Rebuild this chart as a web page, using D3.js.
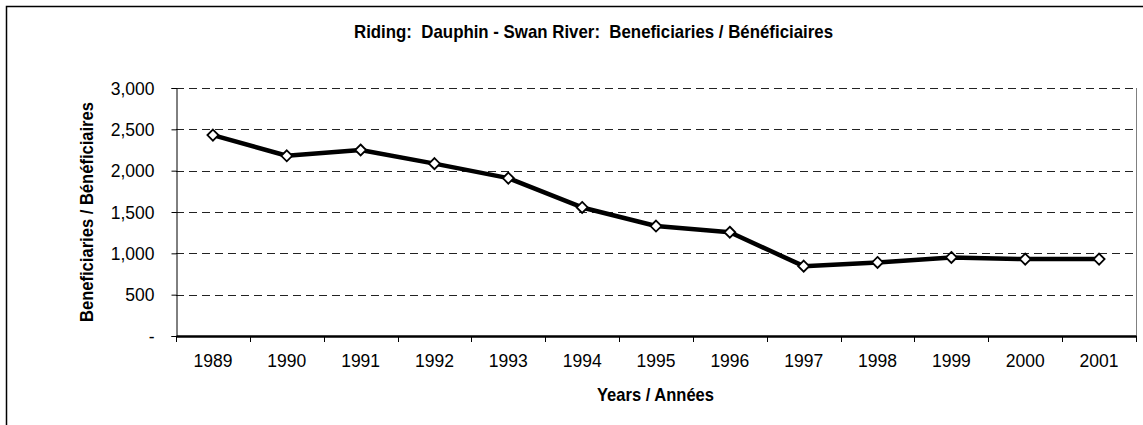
<!DOCTYPE html>
<html>
<head>
<meta charset="utf-8">
<title>Dauphin - Swan River</title>
<script src="https://d3js.org/d3.v7.min.js"></script>
<style>
body { margin: 0; background: #fff; }
</style>
</head>
<body>
<svg id="chart" width="1143" height="425"></svg>
<script>
// data
var years = ['1989','1990','1991','1992','1993','1994','1995','1996','1997','1998','1999','2000','2001'];
var beneficiaries = [2430, 2180, 2250, 2085, 1910, 1555, 1330, 1255, 845, 890, 950, 930, 930];
var yTicks = [0, 500, 1000, 1500, 2000, 2500, 3000];

var boldFont = "'Liberation Sans Narrow', 'Arial Narrow', 'Liberation Sans', Arial, sans-serif";
var tickFont = "'Liberation Sans', Arial, sans-serif";

var svg = d3.select('#chart');

// outer chart border
svg.append('rect')
    .attr('x', 6.5).attr('y', 6.5)
    .attr('width', 1160).attr('height', 440)
    .attr('fill', 'none').attr('stroke', '#000').attr('stroke-width', 1.5);

var margin = {top: 88, left: 176, right: 1136, bottom: 336};

var x = d3.scaleBand()
    .domain(years)
    .range([margin.left, margin.right]);

var y = d3.scaleLinear()
    .domain([0, 3000])
    .range([margin.bottom, margin.top]);

// gridlines
svg.append('g')
    .selectAll('line')
    .data(yTicks.filter(function(d) { return d > 0; }))
    .enter().append('line')
        .attr('x1', margin.left).attr('x2', margin.right)
        .attr('y1', function(d) { return Math.round(y(d)) + 0.5; })
        .attr('y2', function(d) { return Math.round(y(d)) + 0.5; })
        .attr('stroke', '#222')
        .attr('stroke-dasharray', '8,5');

// right border of plot
svg.append('line')
    .attr('x1', margin.right + 0.5).attr('x2', margin.right + 0.5)
    .attr('y1', margin.top).attr('y2', margin.bottom)
    .attr('stroke', '#808080');

// y axis
var yAxis = svg.append('g')
    .attr('transform', 'translate(' + (margin.left + 0.5) + ',0)')
    .call(d3.axisLeft(y)
        .tickValues(yTicks)
        .tickSize(5)
        .tickPadding(17)
        .tickFormat(function(d) { return d === 0 ? '-' : d3.format(',')(d); }));
yAxis.select('.domain').attr('stroke', '#000');
yAxis.selectAll('.tick text')
    .style('font-family', tickFont)
    .style('font-size', '17.5px')
    .attr('fill', '#000')
    .attr('dy', '0.35em');

// x axis
var xAxis = svg.append('g')
    .attr('transform', 'translate(0,' + (margin.bottom) + ')')
    .call(d3.axisBottom(x).tickSize(0).tickPadding(19));
xAxis.select('.domain').attr('stroke', '#000').attr('stroke-width', 2.5);
xAxis.selectAll('.tick text')
    .style('font-family', tickFont)
    .style('font-size', '17.5px')
    .attr('fill', '#000');
// ticks between categories
xAxis.selectAll('line.sep')
    .data(d3.range(years.length + 1))
    .enter().append('line')
        .attr('class', 'sep')
        .attr('x1', function(i) { return Math.round(margin.left + i * x.step()) + 0.5; })
        .attr('x2', function(i) { return Math.round(margin.left + i * x.step()) + 0.5; })
        .attr('y1', 0).attr('y2', 6)
        .attr('stroke', '#000');

// line
var line = d3.line()
    .x(function(d, i) { return x(years[i]) + x.bandwidth() / 2; })
    .y(function(d) { return y(d); });

svg.append('path')
    .datum(beneficiaries)
    .attr('d', line)
    .attr('fill', 'none')
    .attr('stroke', '#000')
    .attr('stroke-width', 4.5)
    .attr('stroke-linejoin', 'round');

// diamond markers
svg.append('g')
    .selectAll('path')
    .data(beneficiaries)
    .enter().append('path')
        .attr('transform', function(d, i) {
            return 'translate(' + (x(years[i]) + x.bandwidth() / 2) + ',' + y(d) + ')';
        })
        .attr('d', 'M0,-5.5L5.5,0L0,5.5L-5.5,0Z')
        .attr('fill', '#fff')
        .attr('stroke', '#000')
        .attr('stroke-width', 1.8);

// titles (narrow bold look: squeeze to measured widths)
svg.append('text')
    .attr('x', 354).attr('y', 38)
    .attr('textLength', 479)
    .attr('lengthAdjust', 'spacingAndGlyphs')
    .style('font-family', boldFont).style('font-weight', 'bold')
    .style('font-size', '19px')
    .text('Riding:\u00a0 Dauphin - Swan River:\u00a0 Beneficiaries / Bénéficiaires');

svg.append('text')
    .attr('x', 597).attr('y', 401)
    .attr('textLength', 117)
    .attr('lengthAdjust', 'spacingAndGlyphs')
    .style('font-family', boldFont).style('font-weight', 'bold')
    .style('font-size', '19px')
    .text('Years / Années');

svg.append('text')
    .attr('transform', 'translate(93,322) rotate(-90)')
    .attr('textLength', 220)
    .attr('lengthAdjust', 'spacingAndGlyphs')
    .style('font-family', boldFont).style('font-weight', 'bold')
    .style('font-size', '19px')
    .text('Beneficiaries / Bénéficiaires');
</script>
</body>
</html>
